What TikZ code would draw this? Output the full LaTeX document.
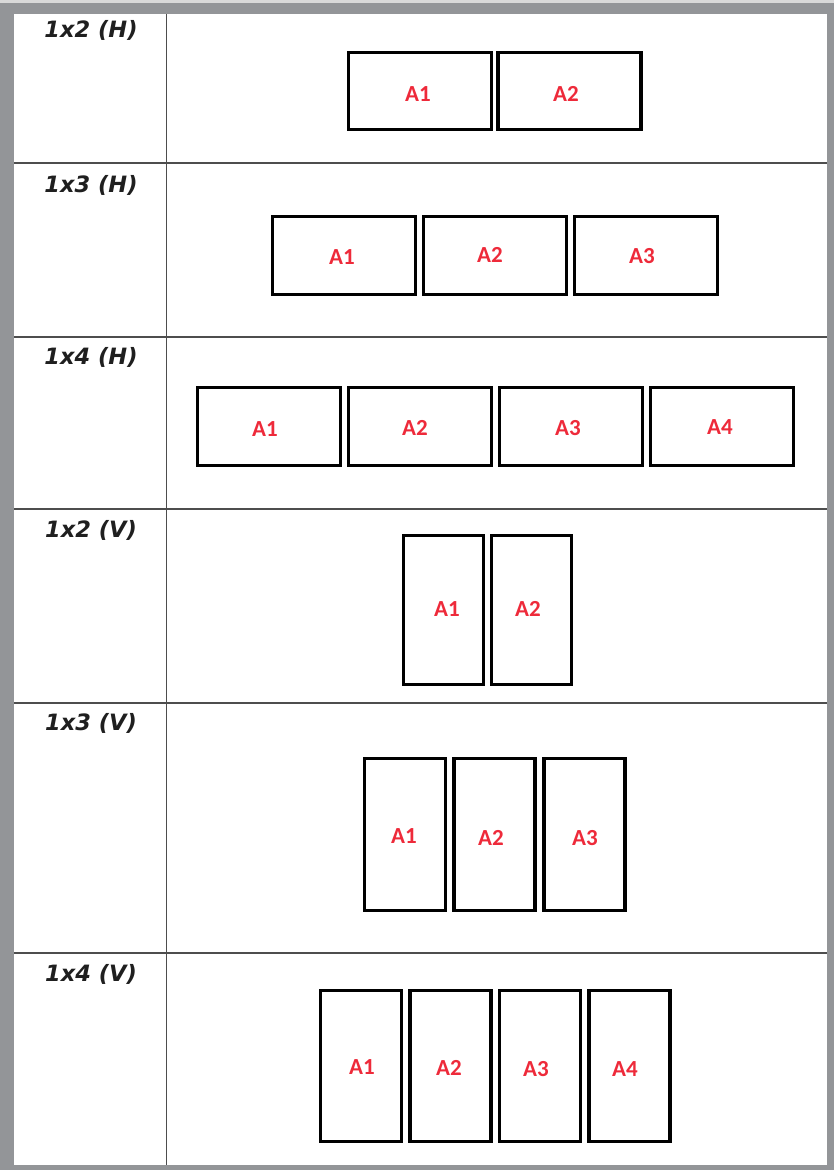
\documentclass[tikz,border=0pt]{standalone}
\usepackage{fontspec}
\newfontfamily\hdrfont{DejaVu Sans}
\newfontfamily\lblfont{Carlito}
\definecolor{frame}{HTML}{939598}
\definecolor{rule}{HTML}{4D4D4D}
\definecolor{lblred}{HTML}{EE2A3A}
\begin{document}
\begin{tikzpicture}[x=1pt,y=-1pt,
  hbox/.style={draw=black,line width=3.2pt,rectangle,minimum width=143pt,minimum height=78pt,inner sep=0pt},
  vbox/.style={draw=black,line width=3.2pt,rectangle,minimum width=81pt,minimum height=151pt,inner sep=0pt},
  lbl/.style={font=\lblfont\bfseries\fontsize{23}{26}\selectfont,text=lblred,inner sep=0pt},
  hdr/.style={font=\hdrfont\bfseries\itshape\fontsize{22.5}{26}\selectfont,text=black!88,inner sep=0pt},
  sep/.style={draw=rule,line width=1.3pt}]
\useasboundingbox (0,0) rectangle (834,1170);
\fill[frame] (0,0) rectangle (834,1170);
\fill[black!15] (0,0) rectangle (834,3);
\fill[white] (14,14) rectangle (827,1165);
% grid
\coordinate (vt) at (166.5,14);
\coordinate (vb) at (166.5,1165);
\draw[sep] (vt) -- (vb);
\foreach \yy/\nm in {163/r1,337/r2,509/r3,703/r4,953/r5}{
  \coordinate (\nm l) at (14,\yy);
  \coordinate (\nm r) at (827,\yy);
  \draw[sep] (\nm l) -- (\nm r);
}
% headers
\node[hdr] (h1) at (91,30) {1x2 (H)};
\node[hdr] (h2) at (91,185) {1x3 (H)};
\node[hdr] (h3) at (91,357) {1x4 (H)};
\node[hdr] (h4) at (91,530) {1x2 (V)};
\node[hdr] (h5) at (91,723) {1x3 (V)};
\node[hdr] (h6) at (91,974) {1x4 (V)};
% row 1
\node[hbox,minimum height=77pt] (a11) at (420,91) {};
\node[hbox,minimum height=77pt] (a12) at (569.5,91) {};
\node[lbl] (l11) at (418,94) {A1};
\node[lbl] (l12) at (566,94) {A2};
% row 2
\node[hbox] (a21) at (344,255.5) {};
\node[hbox] (a22) at (495,255.5) {};
\node[hbox] (a23) at (646,255.5) {};
\node[lbl] (l21) at (342,257) {A1};
\node[lbl] (l22) at (490,255) {A2};
\node[lbl] (l23) at (642,256) {A3};
% row 3
\node[hbox] (a31) at (269,426.5) {};
\node[hbox] (a32) at (420,426.5) {};
\node[hbox] (a33) at (571,426.5) {};
\node[hbox] (a34) at (722,426.5) {};
\node[lbl] (l31) at (265,429) {A1};
\node[lbl] (l32) at (415,428) {A2};
\node[lbl] (l33) at (568,428) {A3};
\node[lbl] (l34) at (720,427) {A4};
% row 4
\node[vbox,minimum width=80pt,minimum height=149pt] (a41) at (443.5,610) {};
\node[vbox,minimum width=80pt,minimum height=149pt] (a42) at (531.5,610) {};
\node[lbl] (l41) at (447,609) {A1};
\node[lbl] (l42) at (528,609) {A2};
% row 5
\node[vbox,minimum height=152pt] (a51) at (405,834.5) {};
\node[vbox,minimum height=152pt] (a52) at (494.5,834.5) {};
\node[vbox,minimum height=152pt] (a53) at (584.5,834.5) {};
\node[lbl] (l51) at (404,836) {A1};
\node[lbl] (l52) at (491,838) {A2};
\node[lbl] (l53) at (585,838) {A3};
% row 6
\node[vbox] (a61) at (361,1066) {};
\node[vbox] (a62) at (450.5,1066) {};
\node[vbox] (a63) at (540,1066) {};
\node[vbox] (a64) at (629.5,1066) {};
\node[lbl] (l61) at (362,1067) {A1};
\node[lbl] (l62) at (449,1068) {A2};
\node[lbl] (l63) at (536,1069) {A3};
\node[lbl] (l64) at (625,1069) {A4};
\end{tikzpicture}
\end{document}
